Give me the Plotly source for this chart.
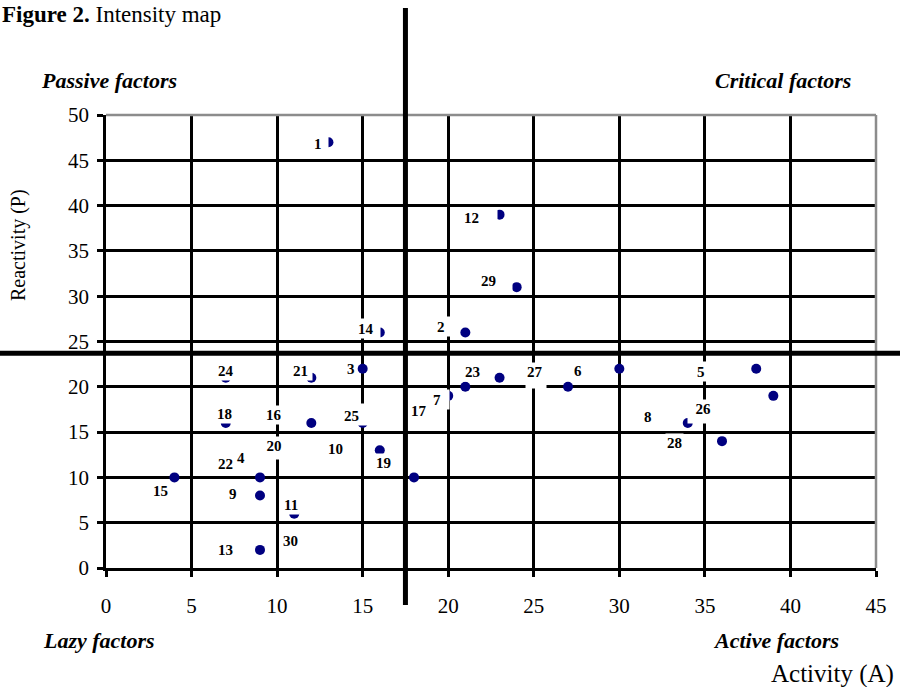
import plotly.graph_objects as go

# ---- data: factor positions (Activity A, Reactivity P) ----
activity = [13, 23, 24, 16, 21, 15, 12, 7, 7, 12, 15, 16, 9, 9, 11, 9, 18, 4,
            20, 21, 23, 27, 30, 38, 39, 34, 36]
reactivity = [47, 39, 31, 26, 26, 22, 21, 21, 16, 16, 16, 13, 10, 8, 6, 2, 10, 10,
              19, 20, 21, 20, 22, 22, 19, 16, 14]

# ---- factor number labels and where they sit on the chart (data units) ----
label_text = ["1", "2", "3", "4", "5", "6", "7", "8", "9", "10", "11", "12", "13", "14", "15",
              "16", "17", "18", "19", "20", "21", "22", "23", "24", "25", "26", "27", "28", "29", "30"]
label_a = [12.4, 19.6, 14.3, 7.9, 34.8, 27.6, 19.4, 31.7, 7.4, 13.4, 10.8, 21.4, 7.0, 15.2, 3.2,
           9.8, 18.3, 6.9, 16.2, 9.8, 11.4, 7.0, 21.4, 7.0, 14.4, 34.9, 25.1, 33.2, 22.4, 10.8]
label_p = [46.8, 26.7, 22.0, 12.1, 21.7, 21.7, 18.6, 16.7, 8.2, 13.1, 6.9, 38.7, 2.0, 26.4, 8.5,
           16.9, 17.3, 17.0, 11.6, 13.4, 21.8, 11.5, 21.6, 21.7, 16.8, 17.5, 21.6, 13.8, 31.7, 3.0]

x_ticks = [0, 5, 10, 15, 20, 25, 30, 35, 40, 45]
y_ticks = [0, 5, 10, 15, 20, 25, 30, 35, 40, 45, 50]

# quadrant separators
split_a = 17.5
split_p = 23.7

# label white-box extensions in px (left, right, up, down) - style only
box_ext = {
    "1": (0, 4, 0, 0), "12": (0, 16, 0, 0), "29": (0, 14, 0, 0), "14": (0, 5, 0, 0),
    "7": (0, 6, 0, 0), "25": (0, 8, 2, 0), "2": (0, 5, 0, 0), "27": (0, 2, 0, 6),
    "26": (6, 0, 0, 4), "21": (0, 2, 0, 0), "5": (0, 2, 0, 0), "20": (0, 0, 0, 3),
}

W, H = 900, 687
L, R, T, B = 106, 24, 115, 119
PW, PH = W - L - R, H - T - B

def px(xp):
    return (xp - L) / PW

def py(yp):
    return (H - B - yp) / PH

FONT = "Liberation Serif"
LFS = 15

fig = go.Figure()
fig.add_trace(go.Scatter(
    x=activity, y=reactivity, mode="markers",
    marker=dict(color="#000080", size=10, line=dict(width=0)),
    hoverinfo="x+y", showlegend=False,
))

annotations = []
for t, a, p in zip(label_text, label_a, label_p):
    ann = dict(
        x=a, y=p, xref="x", yref="y", text="<b>%s</b>" % t, showarrow=False,
        font=dict(family=FONT, size=LFS, color="black"),
        bgcolor="white", borderpad=1, xanchor="center", yanchor="middle",
    )
    if t in box_ext:
        l, r, u, d = box_ext[t]
        tw = len(t) * 0.5 * LFS + 1
        th = 1.15 * LFS
        ann.update(
            width=tw + l + r, height=th + u + d,
            align="left" if r > l else ("right" if l > r else "center"),
            valign="top" if d > u else ("bottom" if u > d else "middle"),
            xshift=(r - l) / 2, yshift=(u - d) / 2,
        )
    annotations.append(ann)

def txt(text, x, y, size, xanchor="left", yanchor="middle", angle=0):
    annotations.append(dict(
        x=px(x), y=py(y), xref="paper", yref="paper", text=text, showarrow=False,
        font=dict(family=FONT, size=size, color="black"), xanchor=xanchor,
        yanchor=yanchor, textangle=angle,
    ))

txt("<b>Figure 2.</b> Intensity map", 0, 0, 23, yanchor="top")
txt("<b><i>Passive factors</i></b>", 39, 80, 22)
txt("<b><i>Critical factors</i></b>", 853, 80, 22, xanchor="right")
txt("<b><i>Lazy factors</i></b>", 41, 640, 22)
txt("<b><i>Active factors</i></b>", 841, 640, 22, xanchor="right")
txt("Activity (A)", 896, 674, 25, xanchor="right")
txt("Reactivity (P)", 18, 245, 20, xanchor="center", angle=-90)

shapes = [
    # gray plot-area border (top and right)
    dict(type="line", xref="paper", yref="paper", x0=0, x1=1, y0=1, y1=1,
         line=dict(color="#8c8c8c", width=2.5), layer="above"),
    dict(type="line", xref="paper", yref="paper", x0=1, x1=1, y0=0, y1=1,
         line=dict(color="#8c8c8c", width=2.5), layer="above"),
    # thick quadrant lines
    dict(type="line", xref="x", yref="paper", x0=split_a, x1=split_a,
         y0=py(605), y1=py(8), line=dict(color="black", width=5), layer="above"),
    dict(type="line", xref="paper", yref="y", x0=px(0), x1=px(900),
         y0=split_p, y1=split_p, line=dict(color="black", width=5), layer="above"),
]

axis_common = dict(
    showgrid=True, gridcolor="black", gridwidth=2.5,
    zeroline=False, showline=True, linecolor="black", linewidth=2.5,
    ticks="outside", ticklen=6, tickwidth=2.5, tickcolor="black",
    tickfont=dict(family=FONT, size=21, color="black"),
    fixedrange=True,
)

fig.update_layout(
    width=W, height=H,
    margin=dict(l=L, r=R, t=T, b=B, pad=0),
    paper_bgcolor="white", plot_bgcolor="white",
    font=dict(family=FONT, color="black"),
    showlegend=False,
    annotations=annotations,
    shapes=shapes,
    xaxis=dict(range=[0, 45], tickvals=x_ticks, ticktext=[str(v) for v in x_ticks],
               ticklabelstandoff=11, **axis_common),
    yaxis=dict(range=[0, 50], tickvals=y_ticks, ticktext=[str(v) for v in y_ticks],
               ticklabelstandoff=4, **axis_common),
)

fig.write_html(
    "out.html",
    config={"displayModeBar": False},
    post_script="document.body.style.margin='0';document.body.style.overflow='hidden';",
)
